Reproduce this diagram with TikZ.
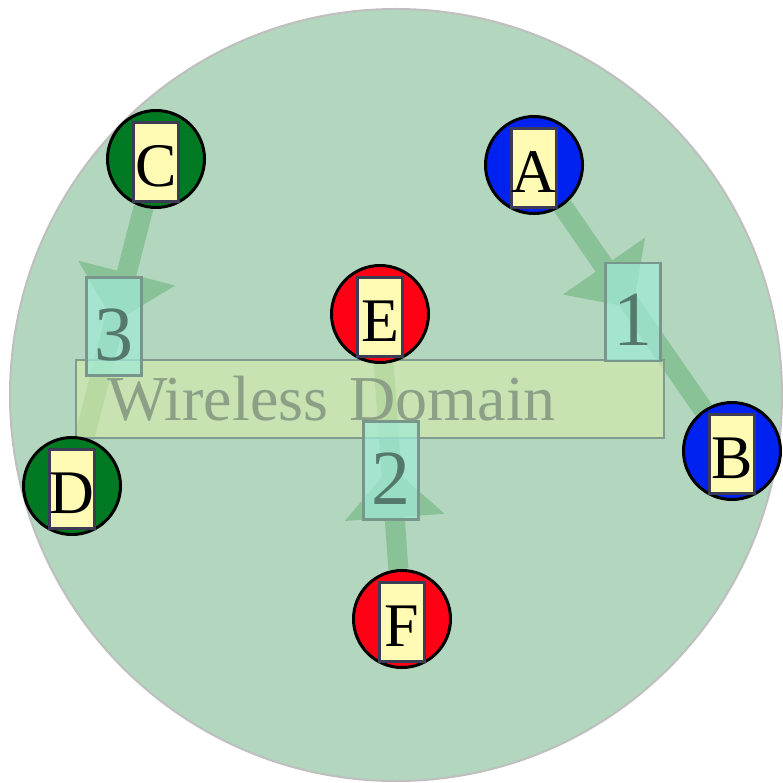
\documentclass[tikz,border=0pt]{standalone}
\usepackage{fontspec}
\setmainfont{Liberation Serif}
\usetikzlibrary{decorations.markings}
\usetikzlibrary{backgrounds}

\definecolor{cellgreen}{RGB}{178,214,190}
\definecolor{linkgreen}{RGB}{138,194,152}
\definecolor{tagyellow}{RGB}{255,250,180}
\definecolor{netblue}{RGB}{0,34,240}
\definecolor{netred}{RGB}{255,0,20}
\definecolor{netgreen}{RGB}{0,122,34}

\tikzset{
  cell/.style={circle, draw=black!25, line width=2pt, fill=cellgreen,
    minimum size=772pt, inner sep=0pt},
  station/.style={circle, draw=black, line width=3pt, fill=#1,
    minimum size=97pt, inner sep=0pt},
  tag/.style={draw={rgb,255:red,60;green,60;blue,85}, line width=3pt,
    fill=tagyellow, minimum width=45pt, minimum height=79pt, inner sep=0pt,
    text height=49pt, text depth=0pt, font=\fontsize{62}{62}\selectfont},
  link/.style={draw=linkgreen, line width=20pt, postaction=decorate,
    decoration={markings, mark=at position 0.5 with
      {\fill[linkgreen] (-51pt,50pt) -- (0pt,0pt) -- (-51pt,-50pt) -- cycle;}}},
  hop/.style={draw={rgb,255:red,120;green,150;blue,140}, line width=2.5pt,
    fill={rgb,255:red,160;green,235;blue,215}, fill opacity=0.7, text opacity=1,
    text={rgb,255:red,85;green,120;blue,108}, minimum width=55pt,
    minimum height=98pt, inner sep=0pt, text height=67pt, text depth=0pt,
    font=\fontsize{78}{78}\selectfont},
  wireless/.style={draw={rgb,255:red,130;green,155;blue,145}, line width=2.5pt,
    fill={rgb,255:red,215;green,235;blue,170}, fill opacity=0.6, text opacity=1,
    text={rgb,255:red,140;green,160;blue,135}, text width=526pt,
    inner xsep=31pt, inner ysep=0pt, minimum height=78pt, align=left,
    font=\fontsize{64}{64}\selectfont}
}

\begin{document}
\begin{tikzpicture}[x=1pt,y=-1pt]
  \useasboundingbox (0,0) rectangle (783,783);
  \node[wireless] (wd) at (370,399) {Wireless Domain};
  % stations with their letter tags
  \foreach \n/\x/\y/\c in {A/534/165/netblue, B/732/451/netblue,
      C/156/159/netgreen, D/72/486/netgreen,
      E/380/314/netred, F/402/619/netred} {
    \node[station=\c] (\n) at (\x,\y) {};
    \node[tag] (\n-tag) at ([yshift=-3pt]\n) {\n};
  }
  \begin{pgfonlayer}{background}
    \node[cell] (cell) at (396,395) {};
    \draw[link] (A) -- coordinate (m1) (B);
    \draw[link] (F) -- coordinate (m2) (E);
    \draw[link] (C) -- coordinate (m3) (D);
  \end{pgfonlayer}
  \foreach \t in {1,2,3}
    \node[hop] (hop\t) at ([yshift=-4pt]m\t) {\t};
\end{tikzpicture}
\end{document}
